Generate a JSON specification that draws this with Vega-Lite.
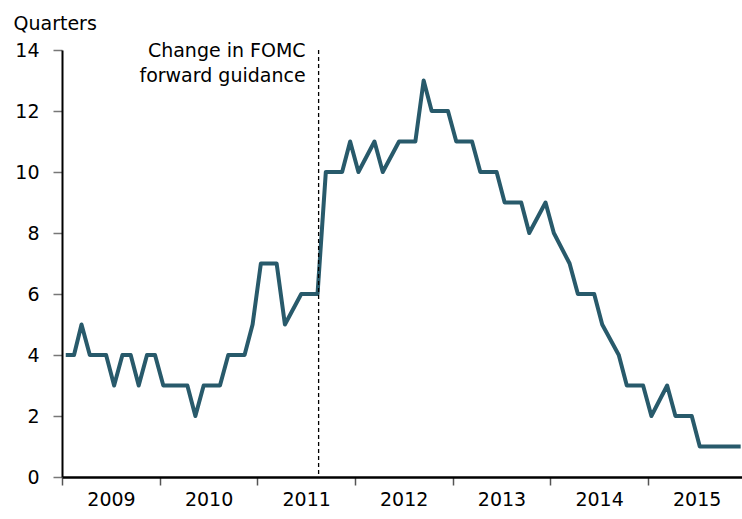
{
  "$schema": "https://vega.github.io/schema/vega-lite/v6.json",
  "width": 680,
  "height": 427,
  "autosize": {"type": "none"},
  "padding": {"left": 62, "top": 50, "right": 0, "bottom": 42},
  "config": {
    "view": {"stroke": null},
    "font": "DejaVu Sans",
    "axis": {"labelFont": "DejaVu Sans", "titleFont": "DejaVu Sans", "grid": false}
  },
  "layer": [
    {
      "data": {"values": [
        {"date": "2009-01-15", "q": 4}, {"date": "2009-02-15", "q": 4}, {"date": "2009-03-15", "q": 5}, {"date": "2009-04-15", "q": 4},
        {"date": "2009-05-15", "q": 4}, {"date": "2009-06-15", "q": 4}, {"date": "2009-07-15", "q": 3}, {"date": "2009-08-15", "q": 4},
        {"date": "2009-09-15", "q": 4}, {"date": "2009-10-15", "q": 3}, {"date": "2009-11-15", "q": 4}, {"date": "2009-12-15", "q": 4},
        {"date": "2010-01-15", "q": 3}, {"date": "2010-02-15", "q": 3}, {"date": "2010-03-15", "q": 3}, {"date": "2010-04-15", "q": 3},
        {"date": "2010-05-15", "q": 2}, {"date": "2010-06-15", "q": 3}, {"date": "2010-07-15", "q": 3}, {"date": "2010-08-15", "q": 3},
        {"date": "2010-09-15", "q": 4}, {"date": "2010-10-15", "q": 4}, {"date": "2010-11-15", "q": 4}, {"date": "2010-12-15", "q": 5},
        {"date": "2011-01-15", "q": 7}, {"date": "2011-02-15", "q": 7}, {"date": "2011-03-15", "q": 7}, {"date": "2011-04-15", "q": 5},
        {"date": "2011-06-15", "q": 6}, {"date": "2011-07-15", "q": 6}, {"date": "2011-08-15", "q": 6},
        {"date": "2011-09-15", "q": 10}, {"date": "2011-10-15", "q": 10}, {"date": "2011-11-15", "q": 10}, {"date": "2011-12-15", "q": 11},
        {"date": "2012-01-15", "q": 10}, {"date": "2012-03-15", "q": 11}, {"date": "2012-04-15", "q": 10},
        {"date": "2012-06-15", "q": 11}, {"date": "2012-07-15", "q": 11}, {"date": "2012-08-15", "q": 11}, {"date": "2012-09-15", "q": 13},
        {"date": "2012-10-15", "q": 12}, {"date": "2012-11-15", "q": 12}, {"date": "2012-12-15", "q": 12},
        {"date": "2013-01-15", "q": 11}, {"date": "2013-02-15", "q": 11}, {"date": "2013-03-15", "q": 11}, {"date": "2013-04-15", "q": 10},
        {"date": "2013-05-15", "q": 10}, {"date": "2013-06-15", "q": 10}, {"date": "2013-07-15", "q": 9}, {"date": "2013-08-15", "q": 9},
        {"date": "2013-09-15", "q": 9}, {"date": "2013-10-15", "q": 8}, {"date": "2013-12-15", "q": 9},
        {"date": "2014-01-15", "q": 8}, {"date": "2014-03-15", "q": 7}, {"date": "2014-04-15", "q": 6},
        {"date": "2014-05-15", "q": 6}, {"date": "2014-06-15", "q": 6}, {"date": "2014-07-15", "q": 5},
        {"date": "2014-09-15", "q": 4}, {"date": "2014-10-15", "q": 3}, {"date": "2014-11-15", "q": 3}, {"date": "2014-12-15", "q": 3},
        {"date": "2015-01-15", "q": 2}, {"date": "2015-03-15", "q": 3}, {"date": "2015-04-15", "q": 2},
        {"date": "2015-05-15", "q": 2}, {"date": "2015-06-15", "q": 2}, {"date": "2015-07-15", "q": 1}, {"date": "2015-08-15", "q": 1},
        {"date": "2015-09-15", "q": 1}, {"date": "2015-10-15", "q": 1}, {"date": "2015-11-15", "q": 1}, {"date": "2015-12-15", "q": 1}
      ]},
      "mark": {"type": "line", "color": "#285a6b", "strokeWidth": 4, "strokeJoin": "round", "clip": true},
      "encoding": {
        "x": {
          "field": "date", "type": "temporal",
          "scale": {"type": "utc", "domain": ["2009-01-01", "2015-12-20"], "nice": false},
          "axis": {
            "title": null, "format": "%Y",
            "tickCount": {"interval": "year", "step": 1},
            "labelOffset": 49, "labelFontSize": 19, "labelColor": "#000",
            "labelPadding": 5, "tickSize": 8, "tickColor": "#555", "tickWidth": 1.5,
            "domainColor": "#000", "domainWidth": 2.5, "labelFlush": false
          }
        },
        "y": {
          "field": "q", "type": "quantitative",
          "scale": {"domain": [0, 14], "nice": false},
          "axis": {
            "values": [0, 2, 4, 6, 8, 10, 12, 14],
            "title": "Quarters", "titleAngle": 0, "titleAlign": "left", "titleBaseline": "alphabetic",
            "titleX": -49, "titleY": -21, "titleFontSize": 19, "titleFontWeight": "normal", "titleColor": "#000",
            "labelFontSize": 19, "labelColor": "#000", "labelPadding": 14,
            "tickSize": 9, "tickColor": "#777", "tickWidth": 1.5,
            "domainColor": "#000", "domainWidth": 2
          }
        }
      }
    },
    {
      "data": {"values": [{"date": "2011-08-19"}]},
      "mark": {"type": "rule", "color": "#000", "strokeWidth": 1.3, "strokeDash": [4, 3]},
      "encoding": {
        "x": {"field": "date", "type": "temporal"}
      }
    },
    {
      "data": {"values": [{"date": "2011-08-19", "q": 14, "label": ["Change in FOMC", "forward guidance"]}]},
      "mark": {"type": "text", "align": "right", "baseline": "alphabetic", "dx": -13, "dy": 7, "fontSize": 19, "lineHeight": 25, "color": "#000", "font": "DejaVu Sans"},
      "encoding": {
        "x": {"field": "date", "type": "temporal"},
        "y": {"field": "q", "type": "quantitative"},
        "text": {"field": "label"}
      }
    }
  ]
}
